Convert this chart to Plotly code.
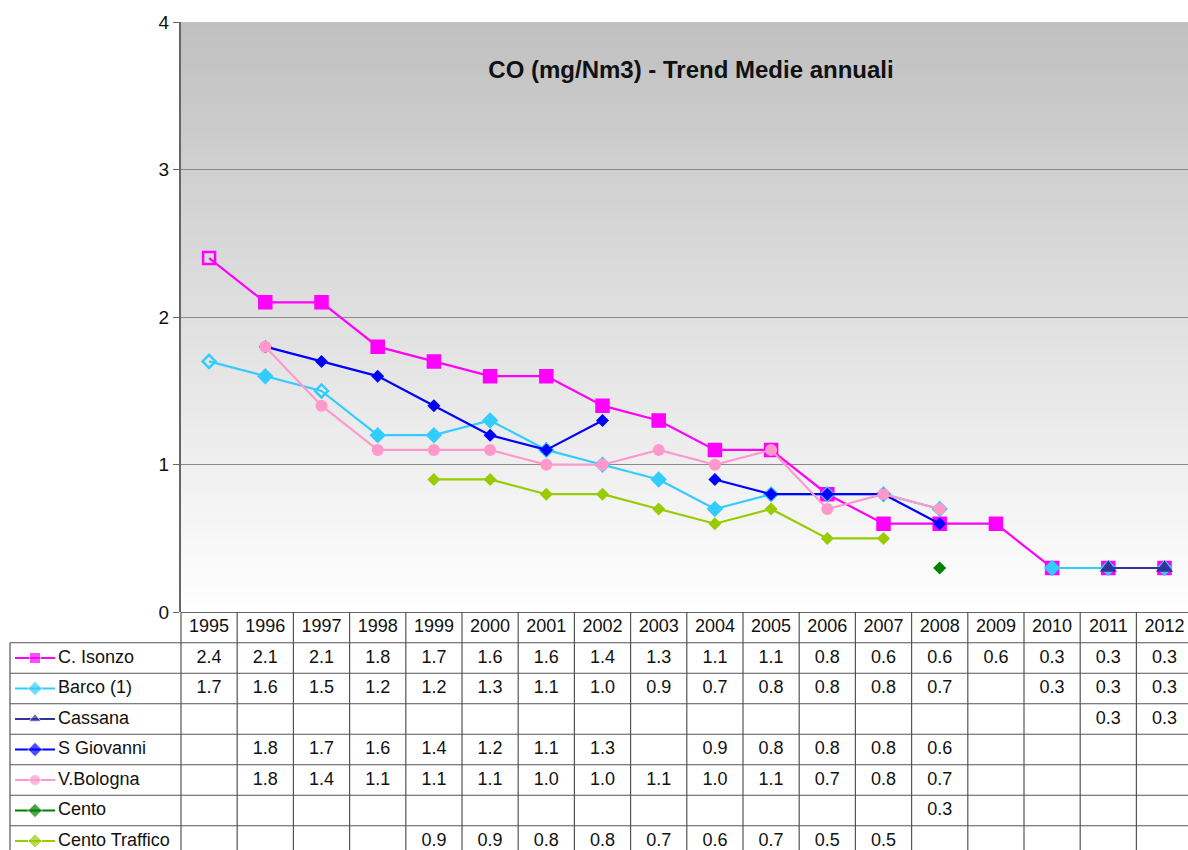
import plotly.graph_objects as go

years = list(range(1995, 2013))

series_names = ["C. Isonzo", "Barco (1)", "Cassana", "S Giovanni", "V.Bologna", "Cento", "Cento Traffico"]

c_isonzo = [2.4, 2.1, 2.1, 1.8, 1.7, 1.6, 1.6, 1.4, 1.3, 1.1, 1.1, 0.8, 0.6, 0.6, 0.6, 0.3, 0.3, 0.3]
barco = [1.7, 1.6, 1.5, 1.2, 1.2, 1.3, 1.1, 1.0, 0.9, 0.7, 0.8, 0.8, 0.8, 0.7, None, 0.3, 0.3, 0.3]
cassana = [None] * 16 + [0.3, 0.3]
s_giovanni = [None, 1.8, 1.7, 1.6, 1.4, 1.2, 1.1, 1.3, None, 0.9, 0.8, 0.8, 0.8, 0.6, None, None, None, None]
v_bologna = [None, 1.8, 1.4, 1.1, 1.1, 1.1, 1.0, 1.0, 1.1, 1.0, 1.1, 0.7, 0.8, 0.7, None, None, None, None]
cento = [None] * 13 + [0.3, None, None, None, None]
cento_traffico = [None, None, None, None, 0.9, 0.9, 0.8, 0.8, 0.7, 0.6, 0.7, 0.5, 0.5, None, None, None, None, None]

series_values = [c_isonzo, barco, cassana, s_giovanni, v_bologna, cento, cento_traffico]

colors = ["#FF00FF", "#33CCFF", "#333399", "#0000FF", "#FF99CC", "#008000", "#99CC00"]
symbols = ["square", "diamond", "triangle-up", "diamond", "circle", "diamond", "diamond"]
sizes = [12, 10, 15, 10, 12, 10, 10]

# a few points drawn hollow in the original
open_points = {0: {1995: "square-open"}, 1: {1995: "diamond-open", 1997: "diamond-open"}}

W, H = 1188, 850
PLOT_L = 181           # left edge of plot area (px)
COL_W = 56.2           # width of one year column (px)
ROW0 = 627.5           # centre of header row (px)
ROW_H = 30.5           # row pitch (px)
PLOT_TOP = 22

x_right = 1994.5 + (W - PLOT_L) / COL_W
x2_left = 1994.5 - PLOT_L / COL_W
def px2x(p):
    return x2_left + p / COL_W

y_top_px = ROW0 - ROW_H / 2
y2_bottom = (H - ROW0) / ROW_H

FONT = "Liberation Sans, Arial, sans-serif"
TABLE_FONT = dict(size=18, color="#111", family=FONT)

fig = go.Figure()

# main chart
for i, (name, vals) in enumerate(zip(series_names, series_values)):
    syms = [open_points.get(i, {}).get(y, symbols[i]) for y in years]
    fig.add_trace(go.Scatter(
        x=years, y=vals, name=name, mode="lines+markers",
        line=dict(color=colors[i], width=2.2),
        marker=dict(symbol=syms, size=sizes[i], color=colors[i],
                    line=dict(color=colors[i], width=2.5 if i < 2 else 0)),
        connectgaps=False, showlegend=False, hoverinfo="x+y+name",
    ))

# data table: header, values, legend keys and names
fig.add_trace(go.Scatter(
    x=years, y=[0] * len(years), text=[str(y) for y in years], mode="text",
    textfont=TABLE_FONT, xaxis="x2", yaxis="y2", showlegend=False, hoverinfo="skip",
))
for i, (name, vals) in enumerate(zip(series_names, series_values)):
    xs = [y for y, v in zip(years, vals) if v is not None]
    fig.add_trace(go.Scatter(
        x=xs, y=[i + 1] * len(xs),
        text=[f"{v:.1f}" for v in vals if v is not None], mode="text",
        textfont=TABLE_FONT, xaxis="x2", yaxis="y2", showlegend=False, hoverinfo="skip",
    ))
    fig.add_trace(go.Scatter(
        x=[px2x(15), px2x(35), px2x(55)], y=[i + 1] * 3, mode="lines+markers",
        line=dict(color=colors[i], width=2),
        marker=dict(symbol=symbols[i], size=[0, 11, 0], color=colors[i]),
        xaxis="x2", yaxis="y2", showlegend=False, hoverinfo="skip",
    ))
fig.add_trace(go.Scatter(
    x=[px2x(58)] * len(series_names), y=list(range(1, len(series_names) + 1)),
    text=series_names, mode="text", textposition="middle right",
    textfont=TABLE_FONT, xaxis="x2", yaxis="y2", showlegend=False,
    hoverinfo="skip", cliponaxis=False,
))

shapes = []
# gradient plot background (overlapping bands so no seams show)
n_bands = 80
step = 4 / n_bands
for k in range(n_bands):
    g = int(round(255 - (255 - 192) * (k + 0.5) / n_bands))
    shapes.append(dict(
        type="rect", xref="x domain", yref="y", x0=0, x1=1,
        y0=k * step, y1=min(4, (k + 2) * step),
        fillcolor=f"rgb({g},{g},{g})", line=dict(width=0), layer="below",
    ))

grid = dict(color="#555", width=1.2)
for k in range(len(years) + 1):
    shapes.append(dict(type="line", xref="x2", yref="y2", x0=1994.5 + k, x1=1994.5 + k,
                       y0=-0.5, y1=y2_bottom + 1, line=grid))
shapes.append(dict(type="line", xref="x2", yref="y2", x0=px2x(10), x1=px2x(10),
                   y0=0.5, y1=y2_bottom + 1, line=grid))
for r in range(len(series_names) + 1):
    shapes.append(dict(type="line", xref="x2", yref="y2", x0=px2x(10), x1=x_right + 1,
                       y0=r + 0.5, y1=r + 0.5, line=grid))
shapes.append(dict(type="line", xref="x2", yref="y2", x0=1994.5, x1=x_right + 1,
                   y0=-0.5, y1=-0.5, line=dict(color="#333", width=1.5)))

fig.update_layout(
    width=W, height=H,
    margin=dict(l=0, r=0, t=0, b=0, autoexpand=False),
    paper_bgcolor="white",
    plot_bgcolor="rgba(0,0,0,0)",
    font=dict(family=FONT, size=17, color="#111"),
    shapes=shapes,
    title=dict(
        text="<b>CO (mg/Nm3) - Trend Medie annuali</b>",
        x=691 / W, y=(H - 70) / H, xanchor="center", yanchor="middle",
        font=dict(size=24, color="#111", family=FONT),
    ),
    xaxis=dict(
        domain=[PLOT_L / W, 1], range=[1994.5, x_right], automargin=False,
        showgrid=False, zeroline=False, showticklabels=False, showline=False,
    ),
    yaxis=dict(
        domain=[(H - y_top_px) / H, (H - PLOT_TOP) / H], range=[0, 4], automargin=False,
        tickvals=[0, 1, 2, 3, 4], ticks="outside", ticklen=6, tickcolor="#666",
        showgrid=True, gridcolor="#8a8a8a", gridwidth=1.2, zeroline=False,
        showline=True, linecolor="#666", linewidth=2,
        tickfont=dict(size=19, color="#111"),
    ),
    xaxis2=dict(
        domain=[0, 1], range=[x2_left, x_right], anchor="y2", automargin=False,
        visible=False, fixedrange=True,
    ),
    yaxis2=dict(
        domain=[0, (H - y_top_px) / H], range=[y2_bottom, -0.5], anchor="x2",
        automargin=False, visible=False, fixedrange=True,
    ),
)

fig.write_html(
    "out.html",
    config={"displayModeBar": False},
    post_script="document.body.style.margin='0';document.body.style.overflow='hidden';",
)
